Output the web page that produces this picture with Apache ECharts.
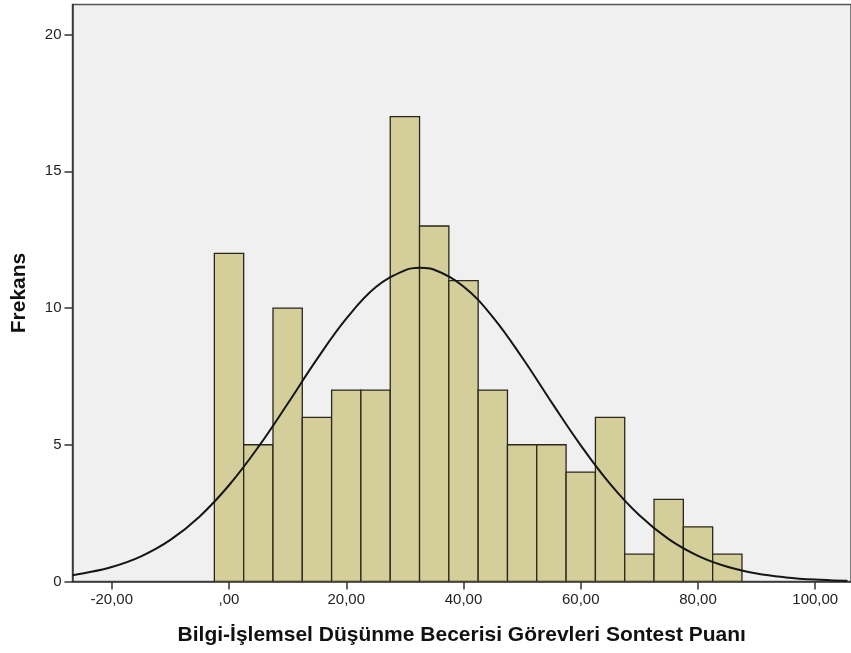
<!DOCTYPE html>
<html>
<head>
<meta charset="utf-8">
<script src="https://cdn.jsdelivr.net/npm/echarts@6/dist/echarts.min.js"></script>
<style>
html,body{margin:0;padding:0;background:#fff;}
#c{width:851px;height:653px;}
</style>
</head>
<body>
<div id="c"></div>
<script>
// Histogram bins (centre of each bin, width 5)
const binCenters = [0, 5, 10, 15, 20, 25, 30, 35, 40, 45, 50, 55, 60, 65, 70, 75, 80, 85];
const binCounts  = [12, 5, 10, 6, 7, 7, 17, 13, 11, 7, 5, 5, 4, 6, 1, 3, 2, 1];
const binWidth = 5;

// Normal curve
const curveX = [-26.7, -25, -20, -15, -10, -5, 0, 5, 10, 15, 20, 25, 30, 32.6, 35, 40, 45, 50, 55, 60, 65, 70, 75, 80, 85, 90, 95, 100, 105, 105.5];
const curveY = [0.23, 0.29, 0.53, 0.92, 1.52, 2.38, 3.52, 4.92, 6.50, 8.13, 9.61, 10.76, 11.38, 11.47, 11.40, 10.79, 9.67, 8.19, 6.56, 4.98, 3.57, 2.42, 1.55, 0.94, 0.54, 0.29, 0.15, 0.07, 0.03, 0.03];

const xTicks = [-20, 0, 20, 40, 60, 80, 100];
const yTicks = [0, 5, 10, 15, 20];

const xTitle = 'Bilgi-İşlemsel Düşünme Becerisi Görevleri Sontest Puanı';
const yTitle = 'Frekans';

function fmtX(v) {
  const s = Math.abs(v).toFixed(2).replace('.', ',');
  const t = (Math.abs(v) < 1e-9) ? s.replace(/^0/, '') : s;
  return (v < 0 ? '-' : '') + t;
}

const chart = echarts.init(document.getElementById('c'), null, {renderer: 'canvas'});
const barData = binCenters.map((c, i) => [c, binCounts[i]]);
const lineData = curveX.map((x, i) => [x, curveY[i]]);

chart.setOption({
  animation: false,
  backgroundColor: '#ffffff',
  grid: {
    left: 72.5, top: 4.5, right: -3, bottom: 71.5,
    show: true, backgroundColor: '#F0F0F0', borderColor: '#555555', borderWidth: 1.5
  },
  xAxis: {
    type: 'value', min: -26.7, max: 106.1,
    name: xTitle, nameLocation: 'middle', nameGap: 43,
    nameTextStyle: {fontFamily: 'Liberation Sans', fontWeight: 'bold', fontSize: 21, color: '#111'},
    axisLine: {onZero: false, lineStyle: {color: '#333', width: 1.5}},
    axisTick: {show: true, length: 8, customValues: xTicks, lineStyle: {color: '#333', width: 1.5}},
    axisLabel: {customValues: xTicks, formatter: fmtX, margin: 11, fontFamily: 'Liberation Sans', fontSize: 15, color: '#222'},
    splitLine: {show: false}
  },
  yAxis: {
    type: 'value', min: 0, max: 21.1,
    name: yTitle, nameLocation: 'middle', nameGap: 43, nameRotate: 90,
    nameTextStyle: {fontFamily: 'Liberation Sans', fontWeight: 'bold', fontSize: 21, color: '#111'},
    axisLine: {show: true, onZero: false, lineStyle: {color: '#333', width: 1.5}},
    axisTick: {show: true, length: 8, customValues: yTicks, lineStyle: {color: '#333', width: 1.5}},
    axisLabel: {customValues: yTicks, margin: 11, fontFamily: 'Liberation Sans', fontSize: 15, color: '#222'},
    splitLine: {show: false}
  },
  series: [
    {
      type: 'custom',
      data: barData,
      clip: true,
      renderItem: function (params, api) {
        const c = api.value(0), v = api.value(1);
        const p1 = api.coord([c - binWidth / 2, v]);
        const p2 = api.coord([c + binWidth / 2, 0]);
        return {
          type: 'rect',
          shape: {x: p1[0], y: p1[1], width: p2[0] - p1[0], height: p2[1] - p1[1]},
          style: {fill: '#D3CE9A', stroke: '#2A271A', lineWidth: 1.3}
        };
      },
      encode: {x: 0, y: 1},
      z: 2
    },
    {
      type: 'line',
      data: lineData,
      smooth: 0.4,
      showSymbol: false,
      symbol: 'none',
      clip: true,
      lineStyle: {color: '#151515', width: 2},
      z: 3
    }
  ]
});
</script>
</body>
</html>
